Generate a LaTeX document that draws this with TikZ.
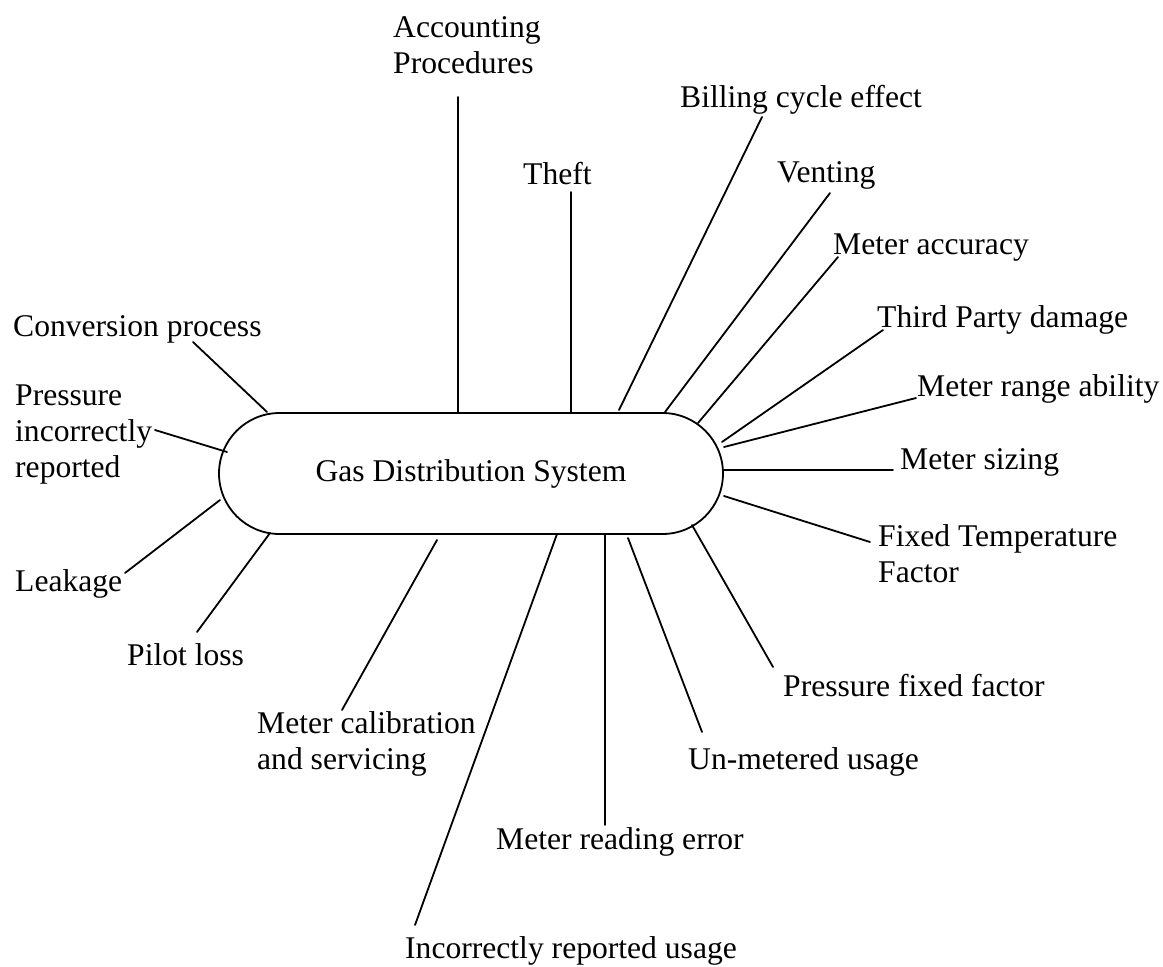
\documentclass[tikz,border=0pt]{standalone}
\usepackage{fontspec}
\setmainfont{Liberation Serif}
\usetikzlibrary{shapes.misc}
\begin{document}
\begin{tikzpicture}[x=1pt,y=-1pt,
  lbl/.style={anchor=base west, inner sep=0pt, align=left,
              font=\fontsize{31.6}{36}\selectfont},
  link/.style={line width=1.8pt, line cap=round},
  hub/.style={draw, line width=1.8pt, rounded rectangle,
              minimum width=504pt, minimum height=121pt, inner sep=0pt,
              font=\fontsize{31.6}{36}\selectfont}]
\useasboundingbox (0,0) rectangle (1163,967);

% central system
\node[hub] (gds) at (471,473.5) {Gas Distribution System};

% labels (multi-line labels are placed by the baseline of their last line)
\node[lbl] (acc)   at (393,73)  {Accounting\\Procedures};
\node[lbl] (theft) at (523,184) {Theft};
\node[lbl] (bill)  at (680,107) {Billing cycle effect};
\node[lbl] (vent)  at (777,182) {Venting};
\node[lbl] (macc)  at (833,254) {Meter accuracy};
\node[lbl] (third) at (877,327) {Third Party damage};
\node[lbl] (range) at (917,396) {Meter range ability};
\node[lbl] (size)  at (900,469) {Meter sizing};
\node[lbl] (ftemp) at (878,582) {Fixed Temperature\\Factor};
\node[lbl] (pfix)  at (783,696) {Pressure fixed factor};
\node[lbl] (unmet) at (688,769) {Un-metered usage};
\node[lbl] (read)  at (496,849) {Meter reading error};
\node[lbl] (incu)  at (405,958) {Incorrectly reported usage};
\node[lbl] (cal)   at (257,769) {Meter calibration\\and servicing};
\node[lbl] (pilot) at (127,665) {Pilot loss};
\node[lbl] (leak)  at (15,591)  {Leakage};
\node[lbl] (pinc)  at (15,477)  {Pressure\\incorrectly\\reported};
\node[lbl] (conv)  at (13,336)  {Conversion process};

% connector end points: outer end near each label, inner end on the system
\coordinate (conv-o)  at (193,342); \coordinate (conv-i)  at (267,412);
\coordinate (pinc-o)  at (155,430); \coordinate (pinc-i)  at (227,452);
\coordinate (leak-o)  at (125,573); \coordinate (leak-i)  at (220,500);
\coordinate (pilot-o) at (197,632); \coordinate (pilot-i) at (270,533);
\coordinate (cal-o)   at (342,710); \coordinate (cal-i)   at (437,540);
\coordinate (incu-o)  at (415,925); \coordinate (incu-i)  at (557,534);
\coordinate (read-o)  at (605,825); \coordinate (read-i)  at (605,534);
\coordinate (unmet-o) at (702,732); \coordinate (unmet-i) at (628,538);
\coordinate (pfix-o)  at (773,667); \coordinate (pfix-i)  at (692,525);
\coordinate (ftemp-o) at (870,542); \coordinate (ftemp-i) at (724,496);
\coordinate (size-o)  at (893,470); \coordinate (size-i)  at (724,470);
\coordinate (range-o) at (916,398); \coordinate (range-i) at (724,447);
\coordinate (third-o) at (883,330); \coordinate (third-i) at (722,442);
\coordinate (macc-o)  at (838,257); \coordinate (macc-i)  at (698,423);
\coordinate (vent-o)  at (830,193); \coordinate (vent-i)  at (665,412);
\coordinate (bill-o)  at (762,117); \coordinate (bill-i)  at (619,410);
\coordinate (theft-o) at (571,192); \coordinate (theft-i) at (571,413);
\coordinate (acc-o)   at (458,97);  \coordinate (acc-i)   at (458,413);

\foreach \k in {conv,pinc,leak,pilot,cal,incu,read,unmet,pfix,ftemp,
                size,range,third,macc,vent,bill,theft,acc}
  \draw[link] (\k-o) -- (\k-i);
\end{tikzpicture}
\end{document}
